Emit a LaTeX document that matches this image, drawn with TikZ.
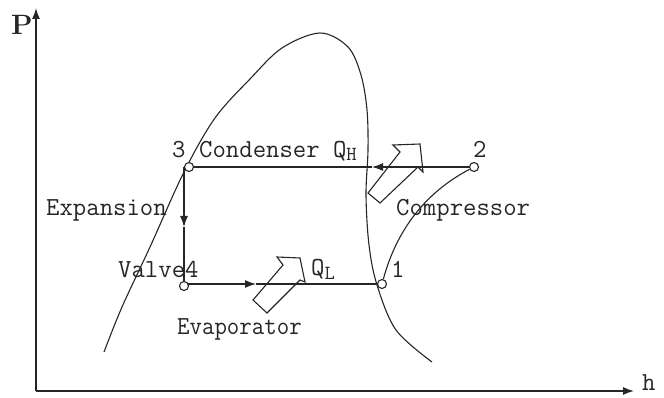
\documentclass[tikz,border=0pt]{standalone}
\usetikzlibrary{arrows.meta}
\begin{document}
\begin{tikzpicture}[x=1pt,y=-1pt,
  ln/.style={line width=1.1pt, draw=black!85},
  ax/.style={line width=1.3pt, draw=black!85},
  pt/.style={circle, draw=black!85, line width=1.1pt, fill=white, minimum size=9pt, inner sep=0pt},
  lbl/.style={inner sep=0pt, anchor=base west, text=black!85, font=\fontsize{26}{30}\selectfont\ttfamily},
  tip/.style={-{Latex[length=11pt,width=8pt]}},
  blk/.style={line width=1.1pt, draw=black!85, line join=miter}
]
\useasboundingbox (0,0) rectangle (664,398);

% axes
\coordinate (o) at (36,391);
\coordinate (ytop) at (36,8);
\coordinate (xend) at (634,391);
\draw[ax,tip] (o) -- (ytop);
\draw[ax,tip] (o) -- (xend);
\node[lbl, font=\fontsize{28}{30}\selectfont\bfseries\rmfamily] (P) at (11,35) {P};
\node[lbl] (h) at (642,390) {h};

% saturation dome
\draw[ln] plot[smooth, tension=0.55] coordinates {
 (104,352) (122,307) (150,247) (184,172) (215,118) (250,79) (282,48) (320,33)
 (348,47) (361,75) (367,110) (368,150) (366,195) (369,245) (377,285) (396,330) (432,362)};

% state points
\node[pt] (p3) at (189,167) {};
\node[pt] (p2) at (474,167) {};
\node[pt] (p4) at (184,286) {};
\node[pt] (p1) at (382,284) {};

% condenser line (2 -> 3)
\coordinate (mt) at (372,167);
\draw[ln,tip] (p2) -- (mt);
\draw[ln] (mt) -- (p3);

% expansion line (3 -> 4)
\coordinate (v3) at (184,167);
\coordinate (mv) at (184,227);
\draw[ln,tip] (v3) -- (mv);
\draw[ln] (mv) -- (p4);

% evaporator line (4 -> 1)
\coordinate (mb) at (256,284);
\coordinate (b4) at (188,284);
\draw[ln,tip] (b4) -- (mb);
\draw[ln] (mb) -- (p1);

% compression (1 -> 2)
\draw[ln] (p1) .. controls (398,225) and (430,190) .. (p2);

% heat block arrows
\draw[blk] (393,145) -- (420,144) -- (423,172) -- (418,167) -- (380,203) -- (368,193) -- (400,152) -- cycle;
\draw[blk] (277,257) -- (300,258) -- (305,282) -- (300,280) -- (267,313) -- (253,300) -- (283,265) -- cycle;

% labels
\node[lbl] (l3) at (172,158) {3};
\node[lbl] (lc) at (199,158) {Condenser Q\raisebox{-3pt}{\fontsize{20}{20}\selectfont H}};
\node[lbl] (l2) at (473,158) {2};
\node[lbl] (le) at (46,215) {Expansion};
\node[lbl] (lv) at (118,277) {Valve4};
\node[lbl] (lk) at (396,215) {Compressor};
\node[lbl] (lq) at (311,276) {Q\raisebox{-3pt}{\fontsize{20}{20}\selectfont L}};
\node[lbl] (l1) at (391,277) {1};
\node[lbl, xscale=0.93] (lev) at (177,334) {Evaporator};
\end{tikzpicture}
\end{document}
